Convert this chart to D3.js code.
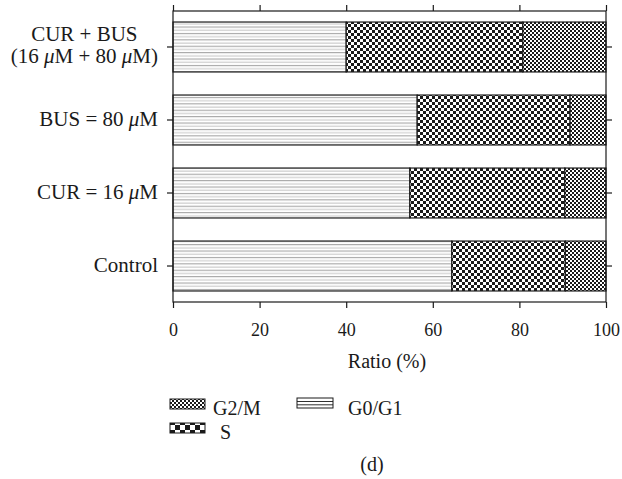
<!DOCTYPE html>
<html>
<head>
<meta charset="utf-8">
<script src="https://cdn.jsdelivr.net/npm/d3@7/dist/d3.min.js"></script>
<style>
  html, body { margin: 0; padding: 0; background: #fff; }
  svg { display: block; }
  svg text { font-family: "Liberation Serif", "DejaVu Serif", serif; }
</style>
</head>
<body>
<svg id="chart" width="622" height="479"></svg>
<script>
// ---- data ----
const categories = ["CUR + BUS|(16 μM + 80 μM)", "BUS = 80 μM", "CUR = 16 μM", "Control"];
const seriesNames = ["G0/G1", "S", "G2/M"];
const g0g1 = [40.0, 56.4, 54.7, 64.4];
const sPhase = [40.8, 35.3, 35.8, 26.2];
const g2m = [19.2, 8.3, 9.5, 9.4];
const xTicks = [0, 20, 40, 60, 80, 100];
const xTitle = "Ratio (%)";
const panelLabel = "(d)";

const svg = d3.select("#chart");
const ink = "#1a1a1a";
const FONT = "Liberation Serif";

// ---- patterns ----
const defs = svg.append("defs");
const pl = defs.append("pattern").attr("id", "pLines").attr("patternUnits", "userSpaceOnUse")
  .attr("width", 8).attr("height", 6.4);
pl.append("rect").attr("width", 8).attr("height", 6.4).attr("fill", "#fff");
pl.append("rect").attr("y", 1).attr("width", 8).attr("height", 1).attr("fill", "#9c9c9c");
pl.append("rect").attr("y", 4.2).attr("width", 8).attr("height", 1).attr("fill", "#c4c4c4");

function checker(id, c) {
  const p = defs.append("pattern").attr("id", id).attr("patternUnits", "userSpaceOnUse")
    .attr("width", 2 * c).attr("height", 2 * c);
  p.append("rect").attr("width", 2 * c).attr("height", 2 * c).attr("fill", "#fff");
  p.append("rect").attr("width", c).attr("height", c).attr("fill", ink);
  p.append("rect").attr("x", c).attr("y", c).attr("width", c).attr("height", c).attr("fill", ink);
}
checker("pBig", 3);
checker("pFine", 2);
checker("pLegBig", 5);

const fills = { "G0/G1": "url(#pLines)", "S": "url(#pBig)", "G2/M": "url(#pFine)" };

// ---- scales ----
const x = d3.scaleLinear().domain([0, 100]).range([173, 606]);
const y = d3.scaleBand().domain(categories).range([11, 302]).paddingInner(0.316).paddingOuter(0.151);

const rows = categories.map((c, i) => ({ cat: c, "G0/G1": g0g1[i], "S": sPhase[i], "G2/M": g2m[i] }));
const stacked = d3.stack().keys(seriesNames)(rows);

// ---- bars ----
const gBars = svg.append("g");
stacked.forEach(layer => {
  gBars.selectAll(null).data(layer).enter().append("rect")
    .attr("x", d => x(d[0]))
    .attr("y", d => y(d.data.cat))
    .attr("width", d => x(d[1]) - x(d[0]))
    .attr("height", y.bandwidth())
    .attr("fill", fills[layer.key])
    .attr("stroke", ink).attr("stroke-width", 1.2);
});

// ---- frame and axes ----
svg.append("rect").attr("x", x(0)).attr("y", 11).attr("width", x(100) - x(0)).attr("height", 291)
  .attr("fill", "none").attr("stroke", ink).attr("stroke-width", 1.2);

function styleAxis(g) {
  g.select(".domain").remove();
  g.selectAll(".tick line").attr("stroke", ink).attr("stroke-width", 1.2);
}
svg.append("g").attr("transform", "translate(0,302)")
  .call(d3.axisBottom(x).tickValues(xTicks).tickSize(6).tickPadding(15).tickFormat(d3.format("d")))
  .call(styleAxis)
  .call(g => g.selectAll(".tick text").attr("font-family", FONT).attr("font-size", 18).attr("fill", ink));
svg.append("g").attr("transform", "translate(0,11)")
  .call(d3.axisTop(x).tickValues(xTicks).tickSize(6).tickFormat(""))
  .call(styleAxis);
svg.append("g").attr("transform", `translate(${x(0)},0)`)
  .call(d3.axisLeft(y).tickSize(6).tickFormat(""))
  .call(styleAxis);
svg.append("g").attr("transform", `translate(${x(100)},0)`)
  .call(d3.axisRight(y).tickSize(6).tickFormat(""))
  .call(styleAxis);

// ---- category labels (with italic μ) ----
function addRich(textSel, str) {
  const parts = str.split(/(μ)/);
  parts.forEach(p => {
    if (!p) return;
    const t = textSel.append("tspan").text(p);
    if (p === "μ") t.attr("font-style", "italic");
  });
}
const labelRight = 158;
categories.forEach(c => {
  const lines = c.split("|");
  const cy = y(c) + y.bandwidth() / 2;
  const lh = 22;
  const off = lines.length > 1 ? -1 : 0;
  const texts = lines.map((ln, i) => {
    const t = svg.append("text")
      .attr("y", cy + 6 + off + (i - (lines.length - 1) / 2) * lh)
      .attr("font-family", FONT)
      .attr("font-size", 21)
      .attr("fill", ink);
    addRich(t, ln);
    return t;
  });
  if (texts.length === 1) {
    texts[0].attr("x", labelRight).attr("text-anchor", "end");
  } else {
    // multi-line block: right edge of widest line at labelRight, lines centred
    const widths = texts.map(t => t.node().getComputedTextLength());
    const maxW = d3.max(widths);
    const centre = labelRight - maxW / 2;
    texts.forEach(t => t.attr("x", centre).attr("text-anchor", "middle"));
  }
});

// ---- axis title ----
svg.append("text").attr("x", 387).attr("y", 368)
  .attr("text-anchor", "middle").attr("font-family", FONT).attr("font-size", 20).attr("fill", ink).text(xTitle);

// ---- legend ----
const leg = svg.append("g");
const legendItems = [
  { key: "G2/M", x: 170, y: 399, fill: "url(#pFine)", tx: 213, ty: 415 },
  { key: "S", x: 170, y: 423, fill: "url(#pLegBig)", tx: 220, ty: 439 },
  { key: "G0/G1", x: 297, y: 398, fill: null, tx: 348, ty: 415 }
];
legendItems.forEach(it => {
  if (it.fill) {
    leg.append("rect").attr("x", it.x).attr("y", it.y).attr("width", 35).attr("height", 10)
      .attr("fill", it.fill).attr("stroke", ink).attr("stroke-width", 1);
  } else {
    leg.append("rect").attr("x", it.x).attr("y", it.y).attr("width", 36).attr("height", 10)
      .attr("fill", "#fff").attr("stroke", ink).attr("stroke-width", 1);
    [it.y + 3.5, it.y + 6.8].forEach(yy => {
      leg.append("line").attr("x1", it.x).attr("x2", it.x + 36).attr("y1", yy).attr("y2", yy)
        .attr("stroke", ink).attr("stroke-width", 0.9);
    });
  }
  leg.append("text").attr("x", it.tx).attr("y", it.ty).attr("font-family", FONT)
    .attr("font-size", 20).attr("fill", ink).text(it.key);
});

// ---- panel label ----
svg.append("text").attr("x", 372).attr("y", 471).attr("text-anchor", "middle")
  .attr("font-family", FONT).attr("font-size", 20).attr("fill", ink).text(panelLabel);
</script>
</body>
</html>
